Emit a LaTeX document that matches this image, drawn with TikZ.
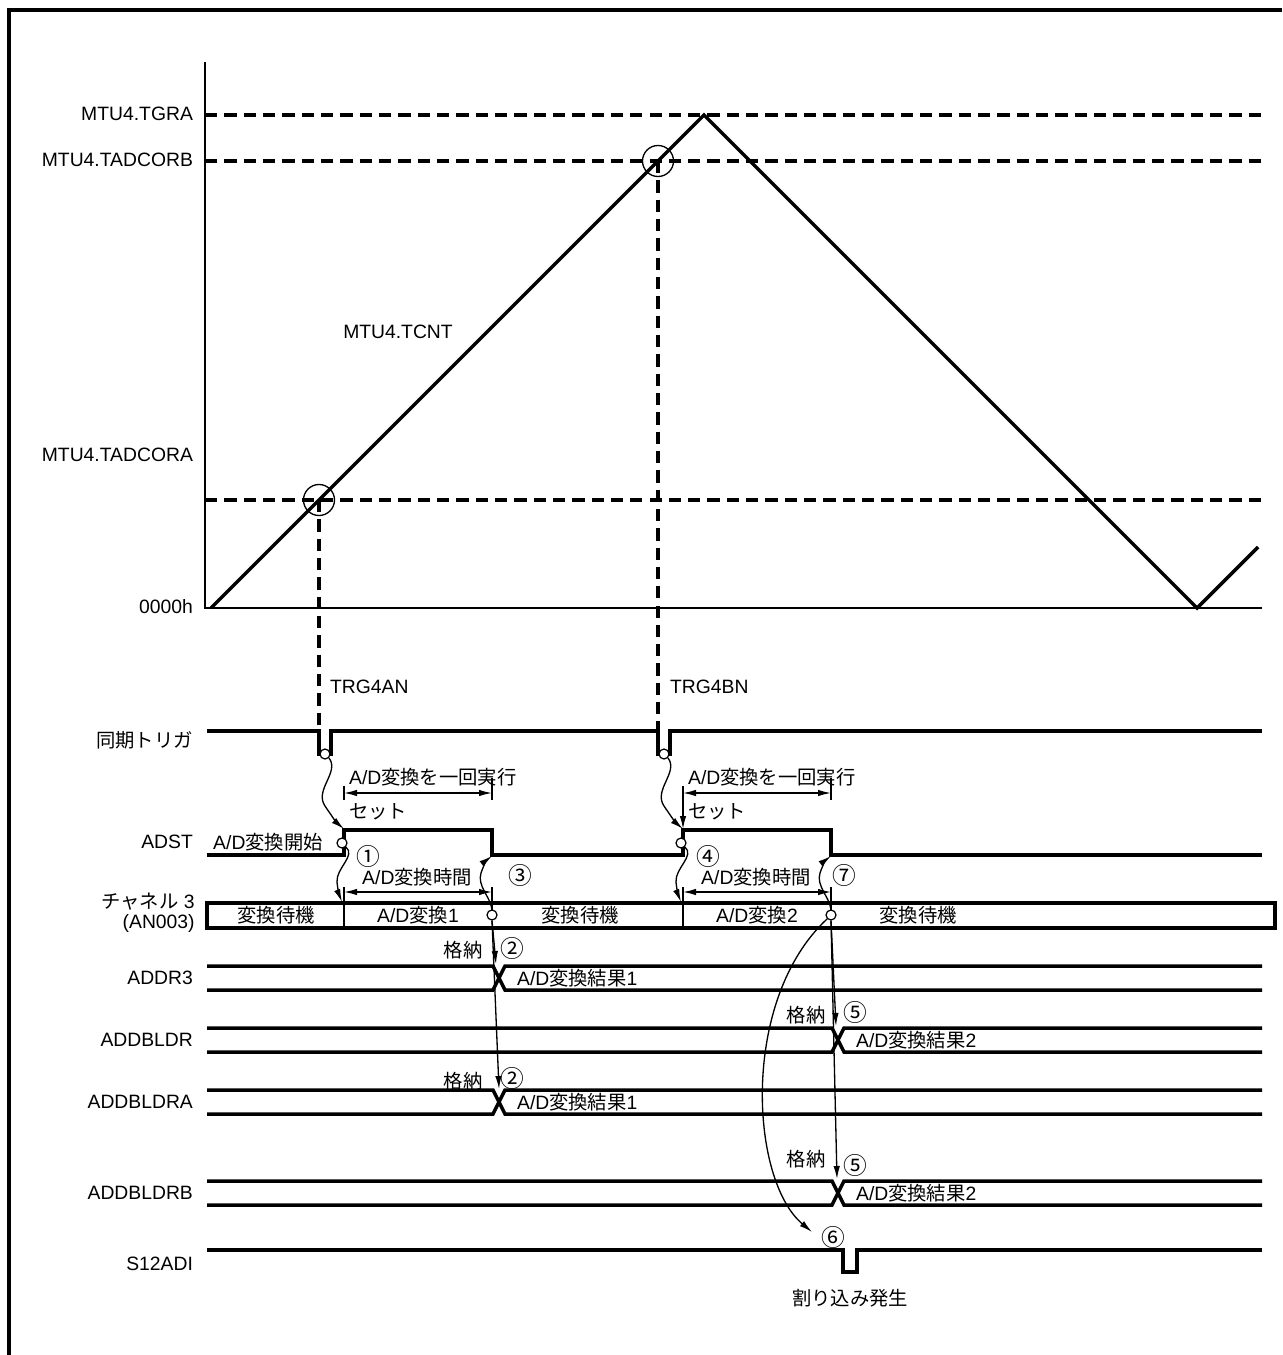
\documentclass[tikz,border=0pt]{standalone}
\usepackage{fontspec}
\setmainfont{Liberation Sans}
\newfontfamily\jpfont{Noto Sans CJK JP}
\newcommand{\jp}[1]{{\jpfont #1}}
\usetikzlibrary{arrows.meta, positioning, calc}
\tikzset{
  sig/.style={line width=2pt},
  hair/.style={line width=0.75pt},
  lvl/.style={line width=1.8pt, dash pattern=on 7pt off 4pt},
  arr/.style={line width=0.75pt, -{Latex[length=2.6mm,width=1.3mm]}},
  dim/.style={line width=0.75pt, {Latex[length=2.6mm,width=1.3mm]}-{Latex[length=2.6mm,width=1.3mm]}},
  tap/.style={circle, draw, line width=0.7pt, minimum size=2mm, inner sep=0pt, fill=white},
  txt/.style={font=\fontsize{11}{13}\selectfont, inner sep=1pt},
  sname/.style={txt, anchor=east},
  num/.style={font=\fontsize{13.5}{15}\jpfont, inner sep=0pt},
}

\begin{document}
\begin{tikzpicture}[x=0.02cm, y=-0.02cm]
\useasboundingbox (0,0) rectangle (1282,1355);
\draw[line width=2pt] (9,1355) -- (9,10) -- (1282,10);

\draw[hair] (205,62) -- (205,608) -- (1262,608);
\draw[lvl] (205,115) -- (1262,115);
\draw[lvl] (205,161) -- (1262,161);
\draw[lvl] (205,500) -- (1262,500);
\draw[sig] (211,608) -- (704,115) -- (1197,608) -- (1258,547);
\draw[hair] (319,500) circle (15.5);
\draw[hair] (658,161) circle (15.5);
\draw[lvl] (319,500) -- (319,731);
\draw[lvl] (658,161) -- (658,731);

\node[sname] (lTGRA) at (195,114) {MTU4.TGRA};
\node[sname] (lTADCORB) at (195,160) {MTU4.TADCORB};
\node[sname] (lTADCORA) at (195,455) {MTU4.TADCORA};
\node[sname] (lZero) at (195,607) {0000h};
\node[txt] (lTCNT) at (398,332) {MTU4.TCNT};
\node[txt, anchor=west] (lTRGA) at (328,687) {TRG4AN};
\node[txt, anchor=west] (lTRGB) at (668,687) {TRG4BN};

% signals
\node[sname] (lTrig) at (195,740) {\jp{同期トリガ}};
\draw[sig] (207,731) -- (319,731) -- (319,754) -- (331,754) -- (331,731) -- (658,731)
  -- (658,754) -- (670,754) -- (670,731) -- (1262,731);
\node[sname] (lADST) at (195,842) {ADST};
\draw[sig] (207,855) -- (344,855) -- (344,830) -- (492,830) -- (492,855) -- (683,855)
  -- (683,830) -- (831,830) -- (831,855) -- (1262,855);
\node[txt] (adStart) at (268,842) {A/D\jp{変換開始}};

\node[sname, inner sep=0pt] (lCh) at (195,902) {\jp{チャネル} 3};
\node[sname, inner sep=0pt] (lAN) at (195,923) {(AN003)};
\draw[hair] (344,887) -- (344,928);
\draw[hair] (683,887) -- (683,928);
\draw[hair] (492,887) -- (492,915);
\draw[hair] (831,887) -- (831,915);
\draw[sig] (207,903) rectangle (1275,928);
\node[txt] (ch1) at (276,915) {\jp{変換待機}};
\node[txt] (ch2) at (418,915) {A/D\jp{変換}1};
\node[txt] (ch3) at (580,915) {\jp{変換待機}};
\node[txt] (ch4) at (757,915) {A/D\jp{変換}2};
\node[txt] (ch5) at (918,915) {\jp{変換待機}};

\foreach \yt/\xt/\nm/\res in {966/493/ADDR3/1, 1028/832/ADDBLDR/2, 1090/493/ADDBLDRA/1, 1181/832/ADDBLDRB/2} {
  \draw[sig] (207,\yt) -- (\xt,\yt) -- (\xt+12,\yt+24) -- (1262,\yt+24);
  \draw[sig] (207,\yt+24) -- (\xt,\yt+24) -- (\xt+12,\yt) -- (1262,\yt);
  \node[sname] (l\nm) at (195,\yt+12) {\nm};
  \node[txt, anchor=west] (r\nm) at (\xt+22,\yt+12) {A/D\jp{変換結果}\res};
}

\node[sname] (lS12) at (195,1264) {S12ADI};
\draw[sig] (207,1250) -- (843,1250) -- (843,1272) -- (857,1272) -- (857,1250) -- (1262,1250);
\node[txt] (irq) at (850,1298) {\jp{割り込み発生}};

% taps and edges
\node[tap] (tA) at (325,754) {};
\node[tap] (tB) at (664,754) {};
\node[tap] (aA) at (342,843) {};
\node[tap] (aB) at (681,843) {};
\node[tap] (cA) at (492,915) {};
\node[tap] (cB) at (831,915) {};
\coordinate (upA) at (344,829);
\coordinate (upB) at (683,829);
\coordinate (dnA) at (492,856);
\coordinate (dnB) at (831,856);
\coordinate (inA) at (342,902);
\coordinate (inB) at (681,902);

\draw[arr] (tA.-45) .. controls (340,772) and (314,790) .. (325,806) .. controls (331,815) and (337,823) .. (upA);
\draw[arr] (tB.-45) .. controls (679,772) and (653,790) .. (664,806) .. controls (670,815) and (676,823) .. (upB);
\draw[arr] (aA.-45) .. controls (356,856) and (336,868) .. (337,882) .. controls (338,892) and (340,897) .. (inA);
\draw[arr] (aB.-45) .. controls (695,856) and (675,868) .. (676,882) .. controls (677,892) and (679,897) .. (inB);
\draw[arr] (cA.north) .. controls (490,896) and (477,886) .. (481,873) .. controls (484,864) and (488,859) .. (dnA);
\draw[arr] (cB.north) .. controls (829,896) and (816,886) .. (820,873) .. controls (823,864) and (827,859) .. (dnB);

% run once / conversion time
\draw[hair] (344,786) -- (344,800);
\draw[hair] (492,778) -- (492,800);
\draw[hair] (831,778) -- (831,800);
\draw[arr] (683,786) -- (upB);
\draw[dim] (344,793) -- (492,793);
\draw[dim] (683,793) -- (831,793);
\node[txt, anchor=west] (runA) at (347,777) {A/D\jp{変換を一回実行}};
\node[txt, anchor=west] (runB) at (686,777) {A/D\jp{変換を一回実行}};
\node[txt, anchor=west] (setA) at (347,812) {\jp{セット}};
\node[txt, anchor=west] (setB) at (686,812) {\jp{セット}};
\draw[dim] (344,892) -- (492,892);
\draw[dim] (683,892) -- (831,892);
\node[txt] (timeA) at (417,877) {A/D\jp{変換時間}};
\node[txt] (timeB) at (756,877) {A/D\jp{変換時間}};

\node[num] (n1) at (368,856) {①};
\node[num] (n3) at (520,875) {③};
\node[num] (n4) at (708,856) {④};
\node[num] (n7) at (844,875) {⑦};

% store
\draw[arr] (cA.south) -- (496,964);
\draw[arr] (cA.south) -- (499,1089);
\draw[arr] (cB.south) -- (836,1026);
\draw[arr] (cB.south) -- (837,1179);
\draw[arr] (cB.south west) .. controls (740,1000) and (750,1180) .. (812,1232);
\node[txt] (st1) at (463,950) {\jp{格納}};
\node[num] (n2a) at (512,948) {②};
\node[txt] (st2) at (463,1081) {\jp{格納}};
\node[num] (n2b) at (512,1078) {②};
\node[txt] (st3) at (806,1015) {\jp{格納}};
\node[num] (n5a) at (855,1012) {⑤};
\node[txt] (st4) at (806,1159) {\jp{格納}};
\node[num] (n5b) at (855,1165) {⑤};
\node[num] (n6) at (833,1237) {⑥};
\end{tikzpicture}
\end{document}
